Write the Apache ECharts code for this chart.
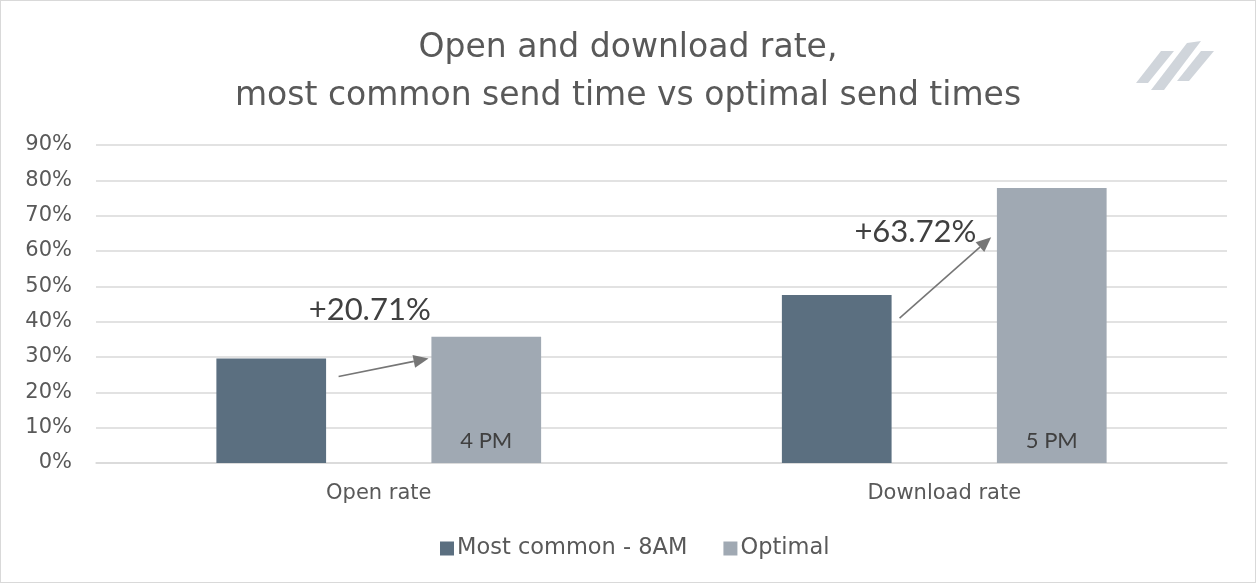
<!DOCTYPE html>
<html><head><meta charset="utf-8">
<script src="https://cdn.jsdelivr.net/npm/echarts@6/dist/echarts.min.js"></script>
<style>html,body{margin:0;padding:0;background:#fff}#c{width:1256px;height:583px;box-sizing:border-box;border:1px solid #d9d9d9}</style>
</head><body><div id="c"></div>
<script>
var categories = ['Open rate', 'Download rate'];
var mostCommon = [29.6, 47.55];
var optimal = [35.73, 77.85];
var seriesNames = ['Most common - 8AM', 'Optimal'];
var optimalTimes = ['4 PM', '5 PM'];
var upliftLabels = ['+20.71%', '+63.72%'];
var yTicks = [0, 10, 20, 30, 40, 50, 60, 70, 80, 90];

var chart = echarts.init(document.getElementById('c'));
var txt = '#595959';
var font = 'DejaVu Sans';
var option = {
  animation: false,
  title: {
    text: 'Open and download rate,\nmost common send time vs optimal send times',
    left: 'center', top: 18,
    textStyle: { fontFamily: font, fontSize: 33, fontWeight: 'normal', color: txt, lineHeight: 48 }
  },
  legend: {
    bottom: 17, left: 434, itemWidth: 14, itemHeight: 14, itemGap: 36,
    icon: 'rect',
    textStyle: { fontFamily: font, fontSize: 22.5, color: txt, padding: [0, 0, 0, -2] },
    data: seriesNames
  },
  grid: { left: 95, right: 28, top: 144, bottom: 119 },
  xAxis: {
    type: 'category', data: categories,
    axisLine: { lineStyle: { color: '#d9d9d9', width: 1.5 } },
    axisTick: { show: false },
    axisLabel: { fontFamily: font, fontSize: 21, color: txt, margin: 20 }
  },
  yAxis: {
    type: 'value', min: 0, max: 90, interval: 10,
    axisLine: { show: false }, axisTick: { show: false },
    axisLabel: { fontFamily: font, fontSize: 21, color: txt, margin: 24, formatter: '{value}%' },
    splitLine: { lineStyle: { color: '#d9d9d9', width: 1.5 } }
  },
  series: [
    { name: seriesNames[0], type: 'bar', data: mostCommon, barWidth: '19.4%', barGap: '96%',
      itemStyle: { color: '#5b6f80' } },
    { name: seriesNames[1], type: 'bar', data: optimal, barWidth: '19.4%',
      itemStyle: { color: '#a0a9b3' },
      label: { show: true, position: 'insideBottom', distance: 11,
        formatter: function (p) { return optimalTimes[p.dataIndex]; },
        fontFamily: 'Lato', fontSize: 22, color: '#404040' } }
  ]
};
chart.setOption(option);

// annotation anchors (category index + offset in band fraction, value)
var arrows = [
  { from: [0, -0.071, 24.5], to: [0, 0.088, 29.6], label: [0, -0.016, 43.2] },
  { from: [1, -0.079, 41.0], to: [1, 0.083, 63.9], label: [1, -0.051, 65.3] }
];
var band = chart.convertToPixel({ gridIndex: 0 }, [1, 0])[0] - chart.convertToPixel({ gridIndex: 0 }, [0, 0])[0];
function px(a) {
  var p = chart.convertToPixel({ gridIndex: 0 }, [a[0], a[2]]);
  return [p[0] + a[1] * band, p[1]];
}
var g = [];
arrows.forEach(function (a, i) {
  var s = px(a.from), e = px(a.to);
  var dx = e[0] - s[0], dy = e[1] - s[1], L = Math.sqrt(dx * dx + dy * dy);
  var ux = dx / L, uy = dy / L, hl = 15, hw = 6.5;
  var bx = e[0] - ux * hl, by = e[1] - uy * hl;
  g.push({ type: 'line', shape: { x1: s[0], y1: s[1], x2: bx, y2: by }, style: { stroke: '#767676', lineWidth: 1.6 }, z: 10 });
  g.push({ type: 'polygon', shape: { points: [e, [bx - uy * hw, by + ux * hw], [bx + uy * hw, by - ux * hw]] }, style: { fill: '#767676' }, z: 10 });
  var l = px(a.label);
  g.push({ type: 'text', x: l[0], y: l[1], style: { text: upliftLabels[i], fontFamily: 'Lato', fontSize: 31, fill: '#404040', align: 'center', verticalAlign: 'middle' }, z: 11 });
});
// logo
var logoColor = '#d0d5db';
g.push({ type: 'polygon', shape: { points: [[1160, 50], [1173, 50], [1147, 82], [1135, 82]] }, style: { fill: logoColor } });
g.push({ type: 'polygon', shape: { points: [[1186, 42], [1200, 40], [1163, 89], [1150, 89]] }, style: { fill: logoColor } });
g.push({ type: 'polygon', shape: { points: [[1200, 50], [1213, 50], [1188, 80], [1176, 80]] }, style: { fill: logoColor } });
chart.setOption({ graphic: g });
</script></body></html>
